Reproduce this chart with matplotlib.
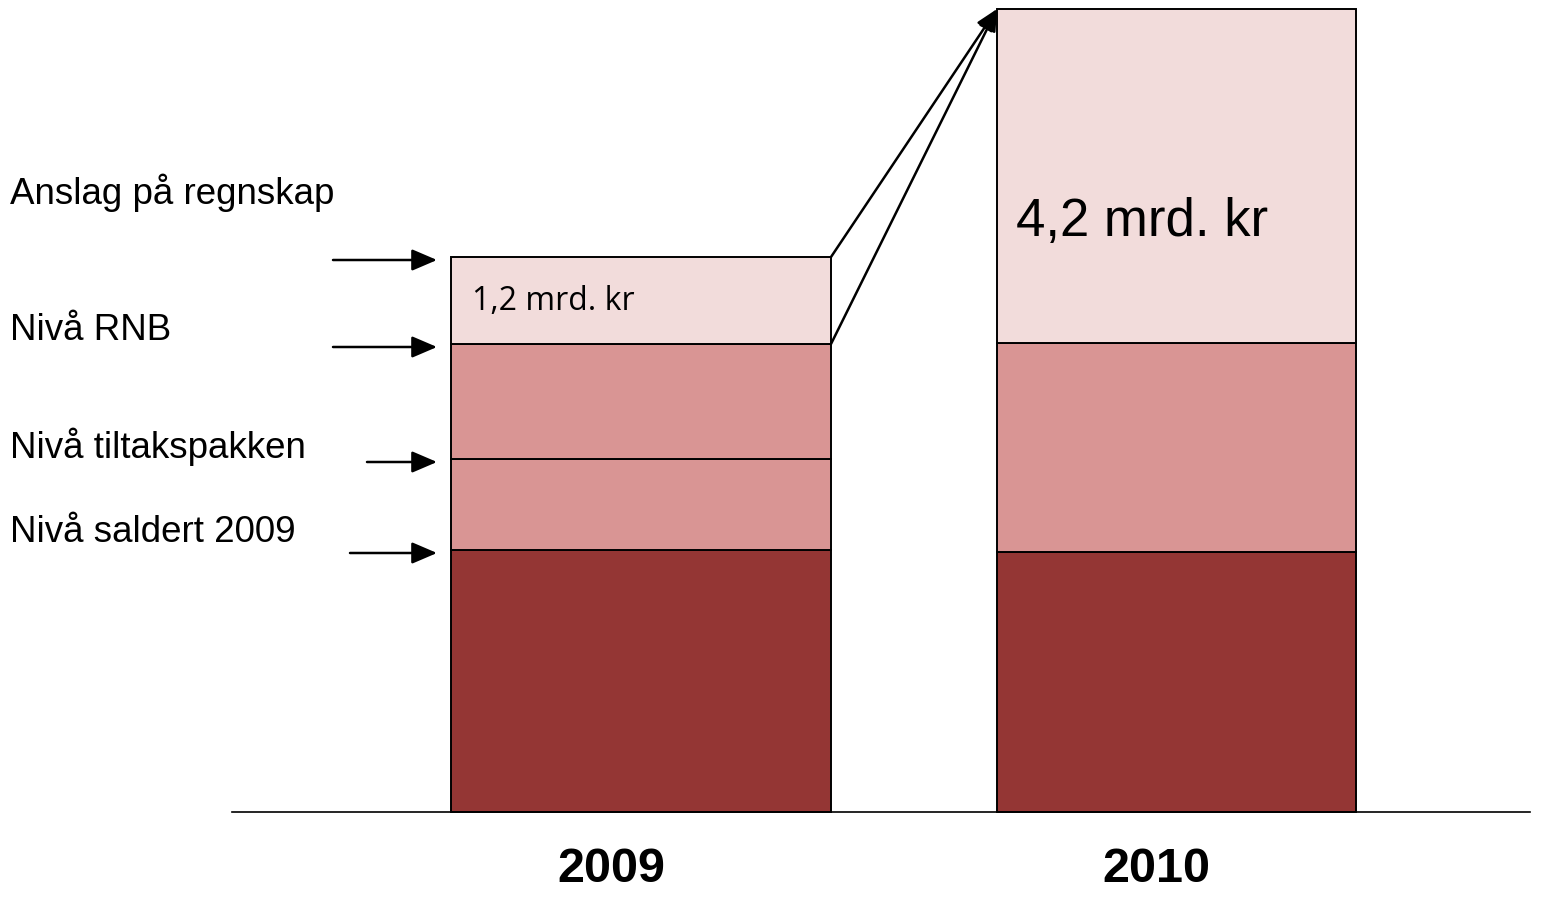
import matplotlib.pyplot as plt
import numpy as np

# stacked segments, in chart units (bottom to top)
years = ["2009", "2010"]
saldert = [262, 260]
tiltak = [91, 0]
rnb = [115, 209]
anslag = [87, 334]
anslag_labels = ["1,2 mrd. kr", "4,2 mrd. kr"]

level_labels = ["Anslag på regnskap", "Nivå RNB", "Nivå tiltakspakken", "Nivå saldert 2009"]

colors = ["#943634", "#D99594", "#D99594", "#F2DCDB"]

fig = plt.figure(figsize=(15.59, 9.12), dpi=100)
ax = fig.add_axes([0, 0, 1, 1])
ax.set_xlim(0, 1559)
ax.set_ylim(-99, 813)
ax.axis("off")

xpos = [641, 1176.5]
widths = [380, 359]

bottom = np.zeros(2)
for seg, col in zip([saldert, tiltak, rnb, anslag], colors):
    seg = np.array(seg, dtype=float)
    for i in range(2):
        if seg[i] > 0:
            ax.bar(xpos[i], seg[i], width=widths[i], bottom=bottom[i], color=col,
                   edgecolor="black", linewidth=1.4, zorder=2)
    bottom += seg

# baseline
ax.plot([232, 1530], [0, 0], color="black", lw=1.2, zorder=3)

# year labels
for x, yr in zip([611, 1156], years):
    ax.text(x, -57, yr, ha="center", va="center", fontsize=35, fontweight="bold",
            family="Liberation Sans")

# level markers for 2009
tops09 = np.cumsum([saldert[0], tiltak[0], rnb[0], anslag[0]])
level_y = [tops09[3], tops09[2], tops09[1], tops09[0]]
arrow_x0 = [333, 333, 367, 350]
label_y = [620, 483, 366, 280]
for lab, ly, y, x0 in zip(level_labels, label_y, level_y, arrow_x0):
    ax.text(10, ly, lab, ha="left", va="center", fontsize=26.5, family="Liberation Sans")
    ax.annotate("", xy=(437, y - 3), xytext=(x0, y - 3),
                arrowprops=dict(arrowstyle="-|>,head_length=0.7,head_width=0.3",
                                color="black", lw=1.8,
                                mutation_scale=22, shrinkA=0, shrinkB=0))

# value labels in top segments
ax.text(472, 511, anslag_labels[0], ha="left", va="center", fontsize=23, family="Open Sans")
ax.text(1016, 591, anslag_labels[1], ha="left", va="center", fontsize=38, family="Liberation Sans")

# lines from 2009 levels to top of 2010
top10 = saldert[1] + tiltak[1] + rnb[1] + anslag[1]
x_right09 = xpos[0] + widths[0] / 2
x_left10 = xpos[1] - widths[1] / 2
for y in [tops09[3], tops09[2]]:
    ax.annotate("", xy=(x_left10, top10), xytext=(x_right09, y),
                arrowprops=dict(arrowstyle="-|>,head_length=0.6,head_width=0.25",
                                color="black", lw=1.8,
                                mutation_scale=22, shrinkA=0, shrinkB=0))

fig.savefig("out.png", dpi=100)
